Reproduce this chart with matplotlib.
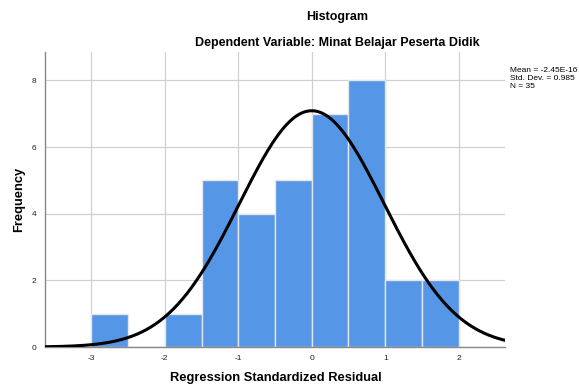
import numpy as np
import matplotlib
matplotlib.use("Agg")
import matplotlib.pyplot as plt

plt.rcParams['font.family'] = ['Liberation Sans', 'DejaVu Sans']

bin_edges = [-3.0, -2.5, -2.0, -1.5, -1.0, -0.5, 0.0, 0.5, 1.0, 1.5, 2.0]
counts = [1, 0, 1, 5, 4, 5, 7, 8, 2, 2]
mean = -2.45e-16
std = 0.985
n = 35
x_ticks = [-3, -2, -1, 0, 1, 2]
y_ticks = [0, 2, 4, 6, 8]

W, H = 579, 387
fig = plt.figure(figsize=(5.79, 3.87), dpi=100)
ax_l, ax_r, ax_t, ax_b = 45, 505, 52, 347
ax = fig.add_axes([ax_l/W, 1-ax_b/H, (ax_r-ax_l)/W, (ax_b-ax_t)/H])

edges = np.array(bin_edges)
widths = np.diff(edges)
ax.bar(edges[:-1], counts, width=widths, align='edge', color='#5596e6',
       edgecolor='#e6e6e6', linewidth=1.0, zorder=2)

xlim = (-3.63, 2.63)
xs = np.linspace(xlim[0], xlim[1], 400)
bw = widths[0]
ys = n * bw * np.exp(-0.5 * ((xs - mean) / std) ** 2) / (std * np.sqrt(2 * np.pi))
ax.plot(xs, ys, color='black', lw=2.2, zorder=3)

ax.set_xlim(*xlim)
ax.set_ylim(0, 8.85)
ax.set_xticks(x_ticks)
ax.set_yticks(y_ticks)
ax.set_xticklabels([str(t) for t in x_ticks])
ax.set_yticklabels([str(t) for t in y_ticks])
ax.tick_params(axis='both', length=0, labelsize=6, pad=6, colors='#222222')
ax.grid(True, color='#d0d0d0', lw=0.9, zorder=0)
ax.set_axisbelow(True)
for s in ['top', 'right']:
    ax.spines[s].set_visible(False)
for s in ['left', 'bottom']:
    ax.spines[s].set_color('#888888')
    ax.spines[s].set_linewidth(1.0)

ax.set_xlabel('Regression Standardized Residual', fontsize=9.3, fontweight='bold')
ax.set_ylabel('Frequency', fontsize=9.3, fontweight='bold')
ax.xaxis.set_label_coords((276-ax_l)/(ax_r-ax_l), -(378-ax_b)/(ax_b-ax_t))
ax.xaxis.label.set_va('center')
ax.yaxis.set_label_coords(-(ax_l-19)/(ax_r-ax_l), 0.5)
ax.yaxis.label.set_va('center')

fig.text(337/W, 1-17/H, 'Histogram', ha='center', va='center', fontsize=9, fontweight='bold')
fig.text(337/W, 1-43/H, 'Dependent Variable: Minat Belajar Peserta Didik', ha='center',
         va='center', fontsize=9, fontweight='bold')
fig.text(510/W, 1-79/H,
         f'Mean = -2.45E-16\nStd. Dev. = {std}\nN = {n}', ha='left', va='center',
         fontsize=6, linespacing=1.2)

fig.savefig('out.png', dpi=100)
